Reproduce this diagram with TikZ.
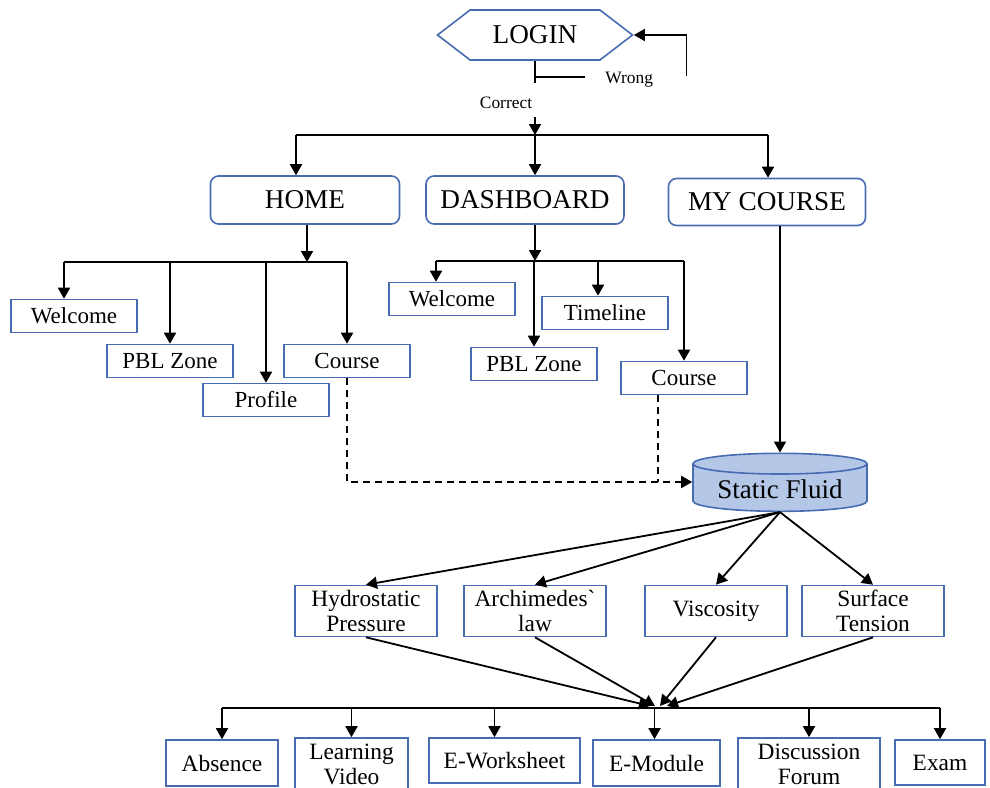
\documentclass[tikz,border=0pt]{standalone}
\usepackage{fontspec}
\setmainfont{Liberation Serif}
\newfontfamily\plainserif{Liberation Serif}
\usetikzlibrary{shapes.geometric, shapes.symbols, arrows.meta, positioning, calc}
\definecolor{boxblue}{RGB}{72,108,178}
\definecolor{fluidblue}{RGB}{180,199,231}
\tikzset{
  nav box/.style={
    rectangle, rounded corners=4pt, draw=boxblue, line width=0.8pt,
    fill=white, minimum height=24pt, inner sep=2pt,
    font=\fontsize{13.6}{15}\selectfont
  },
  leaf box/.style={
    rectangle, draw=boxblue, line width=0.8pt, fill=white,
    minimum width=63pt, minimum height=16.5pt, inner sep=1pt,
    font=\fontsize{11.5}{12.5}\selectfont
  },
  topic box/.style={
    leaf box, minimum width=71pt, minimum height=25.5pt, align=center,
    font=\fontsize{11.7}{12.5}\selectfont
  },
  task box/.style={
    leaf box, minimum height=23pt, align=center,
    font=\fontsize{11.7}{12.5}\selectfont
  },
  flow arrow/.style={
    -{Triangle[length=5.5pt,width=6pt]}, line width=0.9pt, draw=black
  },
  flow line/.style={
    line width=0.9pt, draw=black
  },
  flow label/.style={
    font=\fontsize{8.7}{10}\selectfont, inner sep=1pt
  }
}

\begin{document}
\begin{tikzpicture}[x=0.5pt, y=-0.5pt]
\useasboundingbox (0,0) rectangle (990,787);
\clip (0,0) rectangle (990,787);

% ====== LOGIN ======
\node[signal, signal to=east and west, signal pointer angle=75,
  draw=boxblue, line width=0.8pt, fill=white, inner sep=2pt,
  minimum width=97.5pt, minimum height=25pt,
  font=\fontsize{13.6}{15}\selectfont] (login) at (535,35) {LOGIN};
\coordinate (check) at (535,83);
\coordinate (wtick) at (535,77);
\draw[flow line] (login.south) -- (check);
\draw[flow line] (wtick) -- ++(50,0);
\node[flow label, anchor=west] (wrong) at (603,80) {Wrong};
\draw[flow arrow] ($(wrong.east)+(31,-4)$) |- (login.east);
\node[flow label] (correct) at (506,103) {Correct};
\coordinate (topbus) at (535,135);
\draw[flow arrow] ($(topbus)+(0,-18)$) -- (topbus);

% ====== MAIN MENU ======
\node[nav box, minimum width=94.5pt] (home) at (305,200) {HOME};
\node[nav box, minimum width=99pt] (dash) at (525,200) {DASHBOARD};
\node[nav box, minimum width=98.5pt, minimum height=23.5pt] (mine) at (767,202) {MY COURSE};
\draw[flow line] (296,135) -- (768,135);
\draw[flow arrow] (296,135) -- (296,135 |- home.north);
\draw[flow arrow] (topbus) -- (topbus |- dash.north);
\draw[flow arrow] (768,135) -- (768,135 |- mine.north);

% -- Home --
\node[leaf box] (welA) at (74,316) {Welcome};
\node[leaf box] (pblA) at (170,361) {PBL Zone};
\node[leaf box] (prof) at (266,400) {Profile};
\node[leaf box] (crsA) at (347,361) {Course};
\coordinate (hbus) at (307,262);
\draw[flow arrow] (home.south -| hbus) -- (hbus);
\draw[flow line] ([xshift=-5pt]welA.north |- hbus) -- (crsA.north |- hbus);
\draw[flow arrow] ([xshift=-5pt]welA.north |- hbus) -- ([xshift=-5pt]welA.north);
\foreach \nm in {pblA, prof, crsA}
  \draw[flow arrow] (\nm.north |- hbus) -- (\nm.north);

% -- Dashboard --
\node[leaf box] (welB) at (452,299) {Welcome};
\node[leaf box] (time) at (605,313) {Timeline};
\node[leaf box] (pblB) at (534,364) {PBL Zone};
\node[leaf box] (crsB) at (684,378) {Course};
\coordinate (dbus) at (535,261);
\draw[flow arrow] (dash.south -| dbus) -- (dbus);
\draw[flow line] ([xshift=-8pt]welB.north |- dbus) -- (crsB.north |- dbus);
\draw[flow arrow] ([xshift=-8pt]welB.north |- dbus) -- ([xshift=-8pt]welB.north);
\draw[flow arrow] ([xshift=-3.5pt]time.north |- dbus) -- ([xshift=-3.5pt]time.north);
\draw[flow arrow] (pblB.north |- dbus) -- (pblB.north);
\draw[flow arrow] (crsB.north |- dbus) -- (crsB.north);

% ====== STATIC FLUID ======
\node[cylinder, shape border rotate=90, aspect=0.16, draw=boxblue,
  line width=0.8pt, fill=fluidblue, minimum width=87pt, minimum height=29pt,
  inner sep=1pt, font=\fontsize{13.5}{15}\selectfont] (fluid) at (780,489) {Static Fluid};
\coordinate (fluidin) at ([yshift=3.5pt]fluid.west);
\draw[flow arrow] (mine.south -| fluid.north) -- (fluid.north);
\draw[flow arrow, dash pattern=on 3.5pt off 2.5pt] (crsA.south) |- (fluidin);
\draw[flow line, dash pattern=on 3.5pt off 2.5pt] ([xshift=-13pt]crsB.south) -- ([xshift=-13pt]crsB.south |- fluidin);

% -- Topics --
\node[topic box] (hydro) at (366,611) {Hydrostatic\\Pressure};
\node[topic box] (arch) at (535,611) {Archimedes{\plainserif`}\\law};
\node[topic box] (visc) at (716,611) {Viscosity};
\node[topic box] (surf) at (873,611) {Surface\\Tension};
\foreach \nm in {hydro, arch, visc, surf}
  \draw[flow arrow] (fluid.south) -- (\nm.north);

% ====== LEARNING TOOLS ======
\coordinate (merge) at (654,708);
\draw[flow arrow] (hydro.south) -- ([xshift=-2pt,yshift=1pt]merge);
\draw[flow arrow] (arch.south) -- ([xshift=0.5pt,yshift=1pt]merge);
\draw[flow arrow] (visc.south) -- ([xshift=3pt,yshift=1pt]merge);
\draw[flow arrow] (surf.south) -- ([xshift=6.5pt,yshift=1pt]merge);

\node[task box, minimum width=56pt] (absn) at (222,763) {Absence};
\node[task box, minimum width=56.5pt, minimum height=26pt] (video) at (351.5,764) {Learning\\Video};
\node[task box, minimum width=75.5pt, minimum height=22.5pt] (sheet) at (504.5,760.5) {E-Worksheet};
\node[task box, minimum width=63.5pt] (emod) at (656.5,763) {E-Module};
\node[task box, minimum width=71pt, minimum height=26pt] (forum) at (809,764) {Discussion\\Forum};
\node[task box, minimum width=45pt, minimum height=22.5pt] (exam) at (940,762.5) {Exam};
\draw[flow line] (absn.north |- merge) -- (exam.north |- merge);
\foreach \nm/\dx in {absn/0, video/0, sheet/-5, emod/-1, forum/0, exam/0}
  \draw[flow arrow] ([xshift=\dx pt]\nm.north |- merge) -- ([xshift=\dx pt]\nm.north);

\end{tikzpicture}
\end{document}
